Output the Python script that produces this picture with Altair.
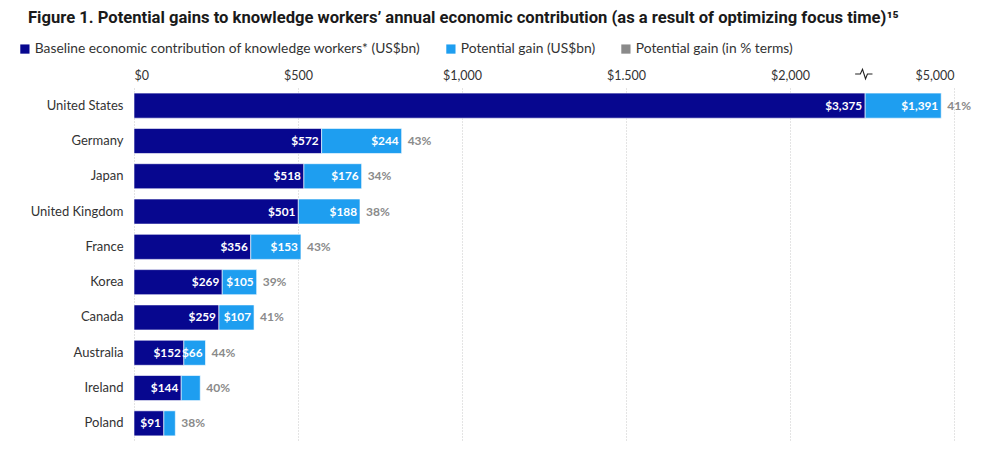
import altair as alt
import pandas as pd

countries = ["United States", "Germany", "Japan", "United Kingdom", "France",
             "Korea", "Canada", "Australia", "Ireland", "Poland"]
baseline = [3375, 572, 518, 501, 356, 269, 259, 152, 144, 91]
gain = [1391, 244, 176, 188, 153, 105, 107, 66, 58, 35]
gain_labels = ["$1,391", "$244", "$176", "$188", "$153", "$105", "$107", "$66", "", ""]
pct_labels = ["41%", "43%", "34%", "38%", "43%", "39%", "41%", "44%", "40%", "38%"]

series = ["Baseline economic contribution of knowledge workers* (US$bn)",
          "Potential gain (US$bn)",
          "Potential gain (in % terms)"]
colors = ["#07078f", "#1e9ef0", "#8a8a8a"]

tick_values = [0, 500, 1000, 1500, 2000, 2500]
tick_labels = ["$0", "$500", "$1,000", "$1.500", "$2,000", "$5,000"]

# axis break: values above 2,000 are compressed 6:1 (2,000..5,000 -> 2,000..2,500)
BREAK = 2000
COMPRESS = 6

df = pd.DataFrame({
    "country": countries,
    "baseline": baseline,
    "gain": gain,
    "gain_label": gain_labels,
    "pct": pct_labels,
})

def disp(expr):
    return f"({expr}) <= {BREAK} ? ({expr}) : {BREAK} + (({expr}) - {BREAK}) / {COMPRESS}"

label_expr = " : ".join(
    [f"datum.value == {v} ? '{l}'" for v, l in zip(tick_values, tick_labels)] + ["''"]
)

FONT = "Lato"

base = alt.Chart(df).transform_calculate(
    b_end=disp("datum.baseline"),
    g_end=disp("datum.baseline + datum.gain"),
    base_label="'$' + format(datum.baseline, ',')",
    s_base=f"'{series[0]}'",
    s_gain=f"'{series[1]}'",
    s_pct=f"'{series[2]}'",
)

y_enc = alt.Y("country:N", sort=None, title=None,
              scale=alt.Scale(paddingInner=0.29, paddingOuter=0.145),
              axis=alt.Axis(domain=False, ticks=False, labelPadding=11,
                            labelFontSize=13, labelColor="#333333", labelFont=FONT))

color_scale = alt.Scale(domain=series, range=colors)
legend = alt.Legend(title=None, orient="none", legendX=-116, legendY=-46,
                    direction="horizontal", symbolType="square", symbolSize=85,
                    symbolStrokeWidth=0, labelFontSize=13.8, labelFont=FONT,
                    labelColor="#333333", columnPadding=23, labelOffset=3,
                    labelLimit=0)

x_axis = alt.Axis(orient="top", values=tick_values, labelExpr=label_expr,
                  domain=False, ticks=False, grid=True, gridColor="#c8c8c8",
                  gridDash=[1, 2], gridWidth=1, labelFontSize=12.5,
                  labelColor="#333333", labelFont=FONT, labelPadding=6,
                  title=None)
x_scale = alt.Scale(domain=[0, 2500], nice=False)

bars_base = base.mark_bar(stroke="white", strokeWidth=0.6).encode(
    x=alt.X("zero:Q", scale=x_scale, axis=x_axis),
    x2="b_end:Q",
    y=y_enc,
    color=alt.Color("s_base:N", scale=color_scale, legend=legend),
).transform_calculate(zero="0")

bars_gain = base.mark_bar(stroke="white", strokeWidth=0.6).encode(
    x=alt.X("b_end:Q", scale=x_scale),
    x2="g_end:Q",
    y=y_enc,
    color=alt.Color("s_gain:N", scale=color_scale, legend=legend),
)

txt_base = base.mark_text(align="right", dx=-3, fontWeight="bold", fontSize=11.8,
                          font=FONT, color="white").encode(
    x=alt.X("b_end:Q", scale=x_scale), y=y_enc, text="base_label:N")

txt_gain = base.mark_text(align="right", dx=-3, fontWeight="bold", fontSize=11.8,
                          font=FONT, color="white").encode(
    x=alt.X("g_end:Q", scale=x_scale), y=y_enc, text="gain_label:N")

txt_pct = base.mark_text(align="left", dx=6, fontWeight="bold", fontSize=12,
                         font=FONT).encode(
    x=alt.X("g_end:Q", scale=x_scale), y=y_enc, text="pct:N",
    color=alt.Color("s_pct:N", scale=color_scale, legend=legend))

break_df = pd.DataFrame({"pos": [2225]})
break_mark = alt.Chart(break_df).mark_point(
    shape="M-1,0 L-0.4,0 L-0.15,-0.55 L0.2,0.55 L0.42,0 L1,0",
    filled=False, stroke="#222222", strokeWidth=1.1, size=300, opacity=1,
).encode(x=alt.X("pos:Q", scale=x_scale), y=alt.value(-14))

chart = alt.layer(bars_base, bars_gain, txt_base, txt_gain, txt_pct, break_mark).properties(
    width=820, height=353,
    title=alt.TitleParams(
        "Figure 1. Potential gains to knowledge workers\u2019 annual economic contribution (as a result of optimizing focus time)\u00b9\u2075",
        anchor="start", align="left", dx=10, offset=15, fontSize=16.6, fontWeight="bold",
        font="Roboto", color="#1a1a1a", limit=0),
    autosize=alt.AutoSizeParams(type="none"),
    padding={"left": 126, "top": 80, "right": 30, "bottom": 4},
).configure_view(stroke=None).resolve_scale(color="shared")

chart.save("out.html", embed_options={"renderer": "svg", "actions": False})
